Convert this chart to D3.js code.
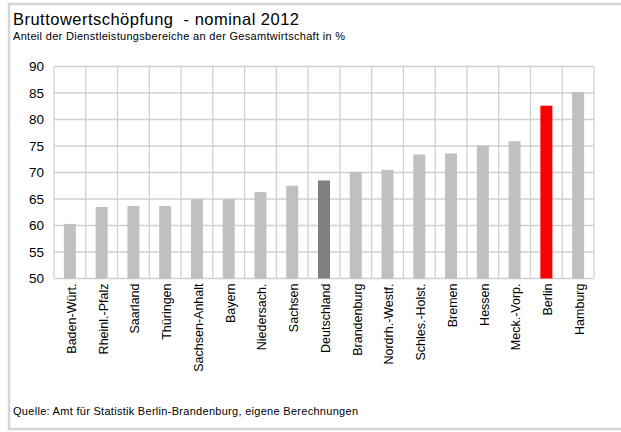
<!DOCTYPE html>
<html><head><meta charset="utf-8">
<script src="https://cdn.jsdelivr.net/npm/d3@7"></script>
<style>body{margin:0;background:#fff}svg{display:block;font-family:"Liberation Sans",Arial,sans-serif}text{white-space:pre}</style>
</head><body>
<script>
const categories = ["Baden-Würt.","Rheinl.-Pfalz","Saarland","Thüringen","Sachsen-Anhalt","Bayern","Niedersach.","Sachsen","Deutschland","Brandenburg","Nordrh.-Westf.","Schles.-Holst.","Bremen","Hessen","Meck.-Vorp.","Berlin","Hamburg"];
const values = [60.3,63.5,63.7,63.7,65.0,65.0,66.3,67.5,68.5,70.1,70.5,73.4,73.6,75.1,75.9,82.6,85.2];
const yTicks = [50,55,60,65,70,75,80,85,90];
const titleText = "Bruttowertschöpfung  - nominal 2012";
const subtitleText = "Anteil der Dienstleistungsbereiche an der Gesamtwirtschaft in %";
const sourceText = "Quelle: Amt für Statistik Berlin-Brandenburg, eigene Berechnungen";

const W = 621, H = 432;
const svg = d3.select("body").append("svg").attr("width", W).attr("height", H);
svg.append("rect").attr("x",9).attr("y",4).attr("width",W).attr("height",425)
  .attr("fill","#fff").attr("stroke","#d6d6d6").attr("stroke-width",2.5);

const m = {left:54, top:66.5, right:594, bottom:278.5};
const x = d3.scaleBand().domain(categories).range([m.left, m.right]).paddingInner(0).paddingOuter(0);
const y = d3.scaleLinear().domain([50,90]).range([m.bottom, m.top]);

const grid = "#d0d0d0";
svg.append("g").selectAll("line").data(yTicks).join("line")
  .attr("x1", m.left).attr("x2", m.right).attr("y1", d=>y(d)).attr("y2", d=>y(d))
  .attr("stroke", grid).attr("stroke-width",1.3);
svg.append("g").selectAll("line").data(categories.concat([null])).join("line")
  .attr("x1", (d,i)=> m.left + i*x.bandwidth()).attr("x2", (d,i)=> m.left + i*x.bandwidth())
  .attr("y1", m.top).attr("y2", m.bottom)
  .attr("stroke", grid).attr("stroke-width",1.3);

const barW = 12;
const colorOf = c => c==="Berlin" ? "#ff0000" : (c==="Deutschland" ? "#808080" : "#c0c0c0");
svg.append("g").selectAll("rect").data(categories).join("rect")
  .attr("x", c => x(c) + x.bandwidth()/2 - barW/2)
  .attr("width", barW)
  .attr("y", (c,i) => y(values[i]))
  .attr("height", (c,i) => y(50) - y(values[i]))
  .attr("fill", colorOf);

const yAxis = d3.axisLeft(y).tickValues(yTicks).tickSize(0).tickPadding(10);
const ga = svg.append("g").attr("transform",`translate(${m.left},0)`).call(yAxis);
ga.select(".domain").remove();
ga.selectAll("text").attr("font-size",13.5).attr("fill","#000").attr("font-family","Liberation Sans, Arial, sans-serif");

const xAxis = d3.axisBottom(x).tickSize(0).tickPadding(0);
const gx = svg.append("g").attr("transform",`translate(0,${m.bottom})`).call(xAxis);
gx.select(".domain").remove();
gx.selectAll("text")
  .attr("font-size",12.5).attr("fill","#000").attr("font-family","Liberation Sans, Arial, sans-serif")
  .attr("text-anchor","end").attr("transform","rotate(-90)")
  .attr("x",-5).attr("y",1.5).attr("dy","0.35em");

svg.append("text").attr("x",13).attr("y",25).attr("font-size",16.5).attr("textLength",286).text(titleText);
svg.append("text").attr("x",13).attr("y",40).attr("font-size",11).attr("textLength",332).text(subtitleText);
svg.append("text").attr("x",13).attr("y",415).attr("font-size",11).attr("textLength",345).text(sourceText);
</script>
</body></html>
